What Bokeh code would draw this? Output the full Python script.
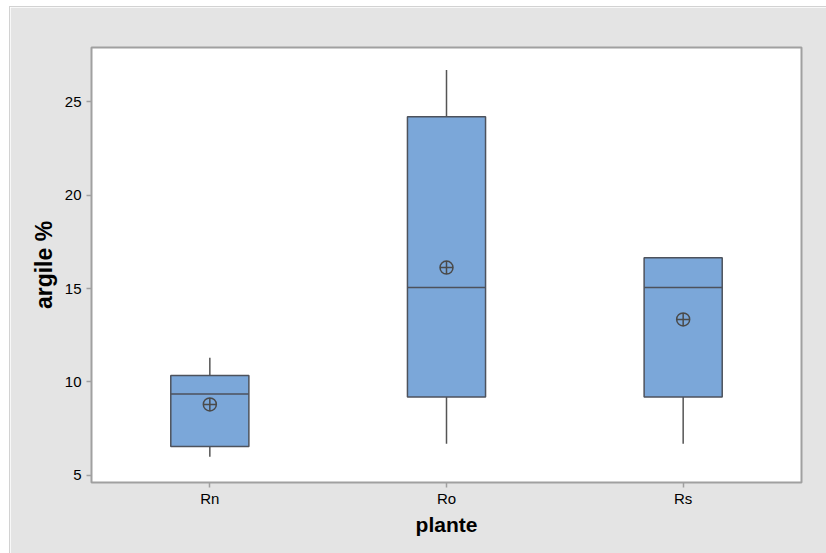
from bokeh.plotting import figure
from bokeh.models import Range1d, FactorRange, ColumnDataSource, FixedTicker
from bokeh.embed import file_html
from bokeh.resources import INLINE

# argile % par plante : quartiles, moustaches et moyennes
plants = ["Rn", "Ro", "Rs"]
q1 = [6.55, 9.2, 9.2]
median = [9.35, 15.05, 15.05]
q3 = [10.35, 24.2, 16.65]
lower = [6.0, 6.7, 6.7]
upper = [11.3, 26.7, 16.65]
mean = [8.8, 16.12, 13.35]
y_ticks = [5, 10, 15, 20, 25]

src = ColumnDataSource(dict(plante=plants, q1=q1, med=median, q3=q3,
                            lo=lower, hi=upper, mean=mean))

BG = "#e4e4e4"
FRAME = "#a0a0a0"
EDGE = "#4d525c"

p = figure(width=816, height=546, output_backend="svg", toolbar_location=None,
           x_range=FactorRange(*plants), y_range=Range1d(4.62, 27.9),
           min_border_left=81, min_border_right=25, min_border_top=40,
           min_border_bottom=71)
p.frame_width = 710
p.frame_height = 435
p.margin = (6, 0, 0, 9)
p.styles = {"border-top": "1px solid #d2d2d2", "border-left": "1px solid #d2d2d2"}

p.background_fill_color = "white"
p.border_fill_color = BG
p.outline_line_color = FRAME
p.outline_line_width = 2
p.xgrid.visible = False
p.ygrid.visible = False

# whiskers
p.segment(x0="plante", y0="q3", x1="plante", y1="hi", source=src,
          line_color="#555555", line_width=1.5)
p.segment(x0="plante", y0="lo", x1="plante", y1="q1", source=src,
          line_color="#555555", line_width=1.5)
# boxes
p.vbar(x="plante", bottom="q1", top="q3", width=0.33, source=src,
       fill_color="#7ba7d9", line_color=EDGE, line_width=1.5)
# medians
p.vbar(x="plante", bottom="med", top="med", width=0.33, source=src,
       fill_alpha=0, line_color=EDGE, line_width=1.5)
# means
p.scatter(x="plante", y="mean", source=src, marker="circle_cross", size=13,
          fill_alpha=0, line_color="#4a4a4a", line_width=1.5)

for ax in (p.xaxis[0], p.yaxis[0]):
    ax.axis_line_color = None
    ax.major_tick_line_color = FRAME
    ax.major_tick_line_width = 1.5
    ax.major_tick_out = 5
    ax.major_tick_in = 0
    ax.minor_tick_line_color = None
    ax.major_label_text_font = "Liberation Sans"
    ax.major_label_text_font_size = "15px"
    ax.major_label_text_color = "black"
    ax.axis_label_text_font = "Liberation Sans"
    ax.axis_label_text_font_style = "bold"
    ax.axis_label_text_color = "black"

p.yaxis.ticker = FixedTicker(ticks=y_ticks)
p.yaxis.axis_label = "argile %"
p.yaxis.axis_label_text_font_size = "23px"
p.yaxis.major_label_orientation = "horizontal"
p.xaxis.axis_label = "plante"
p.xaxis.axis_label_text_font_size = "21px"
p.xaxis.major_label_standoff = 2
p.xaxis.axis_label_standoff = 3

open("out.html", "w").write(file_html(p, INLINE))
